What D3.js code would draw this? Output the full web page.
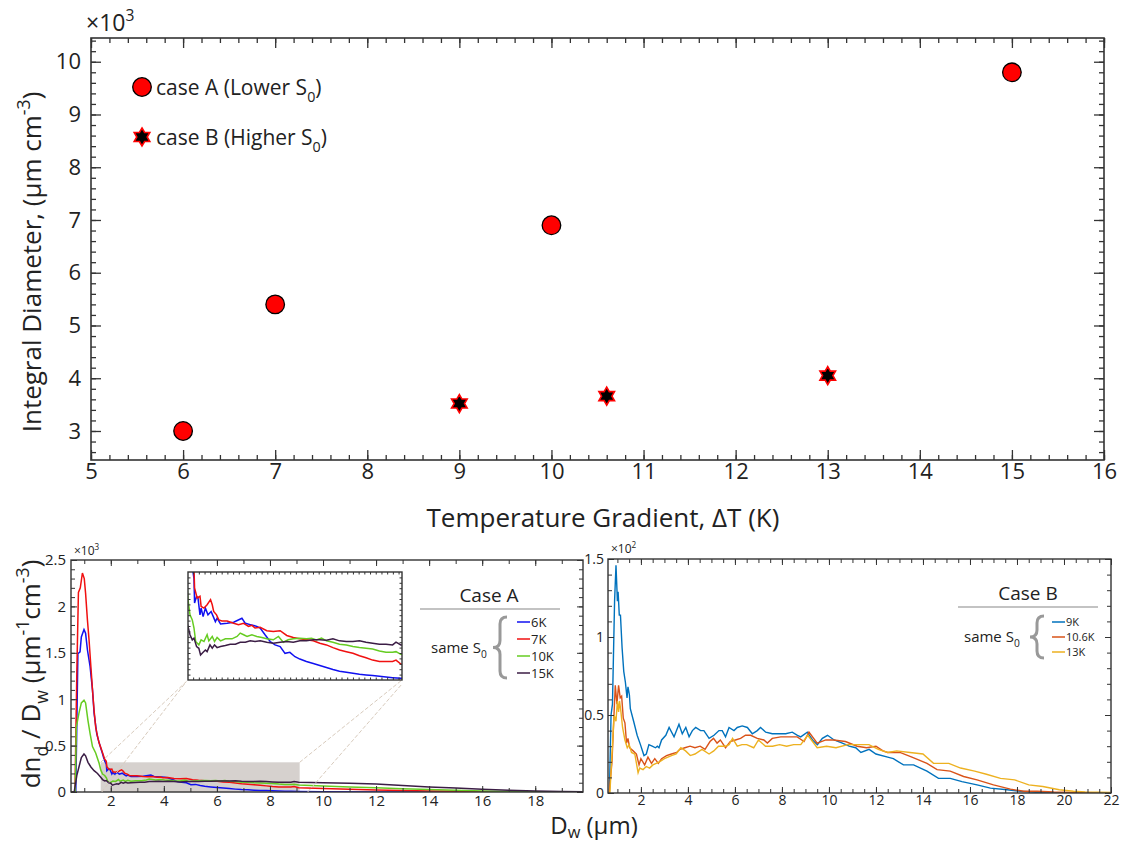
<!DOCTYPE html>
<html><head><meta charset="utf-8">
<script src="https://cdn.jsdelivr.net/npm/d3@7"></script>
<style>
body{margin:0;background:#fff}
svg{display:block}
text{font-family:"Open Sans","Noto Sans",sans-serif;fill:#222}
</style>
</head><body>
<svg id="chart" width="1125" height="842"></svg>
<script>
// ---------- Integral diameter vs temperature gradient ----------
const caseA_dT = [6, 7, 10, 15];
const caseA_ID = [3.0, 5.4, 6.9, 9.8];        // x10^3
const caseB_dT = [9, 10.6, 13];
const caseB_ID = [3.52, 3.66, 4.05];          // x10^3
const topXTicks = [5, 6, 7, 8, 9, 10, 11, 12, 13, 14, 15, 16];
const topYTicks = [3, 4, 5, 6, 7, 8, 9, 10];

// ---------- Size distributions, case A (x10^3) ----------
const caseALabels = ["6K", "7K", "10K", "15K"];
const caseAColors = ["#1010f0", "#f01010", "#66cc22", "#3b1d45"];
const dist6K = [[0.5,0],[0.68,0],[0.76,1.49],[0.84,1.51],[0.89,1.67],[0.99,1.75],[1.05,1.71],[1.12,1.53],[1.22,1.35],[1.31,1.10],[1.37,0.85],[1.47,0.63],[1.56,0.53],[1.68,0.42],[1.76,0.34],[1.83,0.30],
 [1.85,0.228],[1.92,0.248],[1.97,0.243],[2.04,0.193],[2.08,0.213],[2.15,0.188],[2.23,0.213],[2.32,0.193],[2.43,0.203],[2.48,0.193],[2.58,0.173],[2.64,0.183],[2.76,0.166],[2.99,0.168],[3.22,0.171],[3.51,0.183],[3.63,0.168],[3.80,0.164],[4.03,0.159],[4.15,0.154],[4.32,0.134],[4.50,0.114],[4.67,0.104],[4.85,0.099],[5.02,0.079],[5.19,0.082],[5.37,0.069],[5.54,0.062],[5.77,0.055],[6.01,0.049],[6.24,0.043],[6.47,0.037],[6.70,0.031],[6.93,0.026],[7.17,0.023],[7.40,0.020],[7.63,0.017],[7.86,0.015],[8.09,0.013],[8.33,0.011],[8.56,0.009],[8.79,0.007],[9.08,0.005],
 [10,0.004],[12,0.001],[14,0],[19.8,0]];
const dist7K = [[0.5,0],[0.65,0],[0.72,1.3],[0.78,2.15],[0.85,2.2],[0.93,2.36],[1.0,2.3],[1.05,2.14],[1.12,1.85],[1.18,1.64],[1.25,1.35],[1.31,1.1],[1.37,0.88],[1.43,0.70],[1.50,0.60],[1.56,0.53],[1.68,0.43],[1.76,0.36],[1.83,0.33],
 [1.85,0.273],[1.94,0.243],[2.04,0.248],[2.08,0.218],[2.18,0.213],[2.29,0.223],[2.41,0.238],[2.47,0.223],[2.52,0.203],[2.62,0.193],[2.70,0.178],[2.81,0.175],[2.99,0.175],[3.22,0.168],[3.39,0.164],[3.57,0.168],[3.74,0.159],[3.86,0.162],[3.97,0.154],[4.15,0.156],[4.38,0.146],[4.61,0.144],[4.85,0.146],[5.08,0.132],[5.31,0.126],[5.54,0.122],[5.77,0.119],[6.01,0.116],[6.24,0.109],[6.47,0.104],[6.70,0.096],[6.93,0.089],[7.17,0.084],[7.40,0.079],[7.63,0.072],[7.86,0.066],[8.09,0.059],[8.33,0.055],[8.56,0.055],[8.79,0.055],[8.91,0.059],[9.08,0.047],
 [10,0.038],[11,0.03],[12,0.022],[13,0.016],[14,0.011],[15,0.007],[16,0.004],[17,0.002],[18,0.001],[19.8,0]];
const dist10K = [[0.5,0],[0.66,0],[0.70,0.7],[0.80,0.85],[0.89,0.96],[0.99,0.99],[1.05,0.96],[1.14,0.77],[1.22,0.63],[1.31,0.49],[1.43,0.42],[1.56,0.31],[1.62,0.238],
 [1.69,0.193],[1.77,0.178],[1.83,0.154],[1.89,0.114],[2.00,0.104],[2.08,0.119],[2.18,0.114],[2.29,0.134],[2.35,0.116],[2.47,0.129],[2.55,0.114],[2.64,0.126],[2.76,0.116],[2.93,0.122],[3.16,0.122],[3.34,0.129],[3.45,0.139],[3.57,0.134],[3.69,0.129],[3.86,0.134],[4.03,0.129],[4.21,0.126],[4.38,0.122],[4.61,0.119],[4.79,0.129],[4.96,0.112],[5.13,0.119],[5.31,0.122],[5.54,0.124],[5.77,0.122],[5.95,0.124],[6.12,0.119],[6.30,0.124],[6.47,0.116],[6.70,0.112],[6.93,0.106],[7.17,0.104],[7.40,0.099],[7.63,0.096],[7.86,0.094],[8.09,0.092],[8.33,0.086],[8.56,0.082],[8.79,0.082],[8.91,0.084],[9.08,0.076],
 [10,0.065],[11,0.055],[12,0.045],[13,0.035],[14,0.026],[15,0.018],[16,0.011],[17,0.006],[18,0.003],[19.8,0.001]];
const dist15K = [[0.5,0],[0.62,0],[0.72,0.18],[0.80,0.27],[0.89,0.37],[0.99,0.41],[1.05,0.39],[1.14,0.32],[1.25,0.27],[1.37,0.23],[1.50,0.20],[1.62,0.159],
 [1.69,0.134],[1.77,0.119],[1.83,0.124],[1.92,0.099],[2.00,0.094],[2.06,0.074],[2.15,0.082],[2.23,0.089],[2.29,0.084],[2.39,0.104],[2.47,0.094],[2.55,0.104],[2.64,0.096],[2.76,0.099],[2.93,0.102],[3.10,0.106],[3.28,0.106],[3.45,0.112],[3.63,0.112],[3.80,0.116],[3.97,0.114],[4.15,0.116],[4.38,0.112],[4.61,0.109],[4.85,0.112],[5.08,0.114],[5.31,0.112],[5.54,0.116],[5.77,0.116],[6.01,0.119],[6.24,0.119],[6.47,0.118],[6.70,0.122],[6.93,0.116],[7.17,0.114],[7.40,0.114],[7.63,0.116],[7.86,0.112],[8.09,0.109],[8.33,0.106],[8.56,0.106],[8.79,0.104],[8.91,0.112],[9.08,0.104],
 [10,0.1],[11,0.095],[12,0.085],[13,0.07],[14,0.055],[15,0.042],[16,0.03],[17,0.018],[18,0.01],[19,0.005],[19.8,0.003]];
const caseASeries = [dist6K, dist7K, dist10K, dist15K];
const zoomBoxX = [1.62, 9.12];
const zoomBoxY = [0, 0.32];

// ---------- Size distributions, case B (x10^2) ----------
const caseBLabels = ["9K", "10.6K", "13K"];
const caseBColors = ["#0072bd", "#d95319", "#edb120"];
const dist9K = [[0.6,0],[0.66,0],[0.73,0.5],[0.79,0.57],[0.88,1.23],[0.94,1.46],[1.0,1.23],[1.03,1.29],[1.08,1.14],[1.13,1.14],[1.2,0.93],[1.27,0.78],[1.34,0.71],[1.41,0.61],[1.45,0.68],[1.51,0.63],[1.55,0.54],[1.69,0.46],[1.84,0.37],[1.98,0.31],[2.13,0.24],[2.23,0.25],[2.34,0.31],[2.48,0.30],[2.62,0.29],[2.70,0.30],[2.77,0.29],[2.88,0.34],[3.06,0.37],[3.20,0.42],[3.41,0.36],[3.62,0.44],[3.76,0.38],[3.91,0.42],[4.05,0.36],[4.19,0.40],[4.33,0.42],[4.54,0.40],[4.68,0.40],[4.90,0.35],[5.11,0.37],[5.32,0.40],[5.46,0.40],[5.60,0.36],[5.75,0.42],[5.96,0.40],[6.10,0.42],[6.31,0.43],[6.53,0.42],[6.74,0.38],[6.95,0.40],[7.09,0.42],[7.31,0.39],[7.59,0.38],[7.87,0.38],[8.16,0.38],[8.44,0.39],[8.66,0.37],[8.80,0.36],[9.08,0.39],[9.30,0.34],[9.51,0.31],[9.72,0.35],[9.94,0.37],[10.22,0.34],[10.57,0.32],[10.86,0.30],[11.14,0.29],[11.36,0.26],[11.71,0.28],[12.0,0.25],[12.5,0.23],[12.74,0.22],[13.17,0.18],[13.6,0.18],[14.17,0.14],[14.66,0.094],[15.16,0.094],[15.66,0.073],[16.3,0.052],[16.87,0.031],[17.58,0.021],[18.15,0.011],[18.86,0.004],[19.57,0.002],[20.7,0.002],[22,0]];
const dist10_6K = [[0.6,0],[0.65,0],[0.77,0.2],[0.84,0.45],[0.91,0.69],[0.98,0.57],[1.05,0.69],[1.12,0.61],[1.18,0.62],[1.25,0.48],[1.32,0.45],[1.39,0.32],[1.45,0.35],[1.52,0.29],[1.67,0.27],[1.81,0.25],[1.92,0.18],[2.0,0.22],[2.16,0.18],[2.3,0.23],[2.45,0.19],[2.59,0.22],[2.74,0.19],[2.88,0.22],[3.09,0.24],[3.3,0.25],[3.52,0.26],[3.66,0.28],[3.87,0.29],[4.09,0.30],[4.3,0.29],[4.52,0.30],[4.73,0.28],[4.94,0.33],[5.09,0.35],[5.24,0.32],[5.38,0.34],[5.6,0.29],[5.8,0.33],[6.02,0.34],[6.24,0.35],[6.45,0.37],[6.67,0.37],[6.95,0.35],[7.23,0.34],[7.38,0.32],[7.59,0.35],[7.95,0.36],[8.37,0.36],[8.65,0.36],[8.94,0.33],[9.15,0.39],[9.5,0.32],[9.87,0.34],[10.2,0.34],[10.7,0.33],[11.2,0.30],[11.6,0.29],[12.0,0.30],[12.3,0.27],[12.5,0.26],[13.02,0.26],[13.53,0.23],[14.17,0.19],[14.6,0.15],[15.16,0.14],[15.73,0.106],[16.3,0.084],[17.0,0.052],[17.72,0.025],[18.29,0.011],[18.86,0.011],[19.57,0.006],[20.3,0.004],[21.3,0.002],[22,0]];
const dist13K = [[0.6,0],[0.68,0],[0.8,0.33],[0.86,0.5],[0.94,0.46],[1.0,0.59],[1.05,0.52],[1.09,0.59],[1.15,0.52],[1.22,0.42],[1.32,0.34],[1.42,0.29],[1.5,0.31],[1.6,0.26],[1.74,0.25],[1.88,0.13],[1.95,0.16],[2.09,0.15],[2.23,0.17],[2.37,0.16],[2.51,0.18],[2.65,0.19],[2.79,0.20],[3.0,0.22],[3.3,0.24],[3.5,0.25],[3.7,0.29],[3.9,0.27],[4.1,0.24],[4.3,0.25],[4.6,0.28],[4.9,0.25],[5.1,0.27],[5.3,0.30],[5.6,0.30],[5.75,0.31],[5.9,0.35],[6.1,0.30],[6.3,0.31],[6.5,0.31],[6.8,0.29],[7.0,0.34],[7.3,0.30],[7.6,0.30],[7.9,0.31],[8.2,0.30],[8.5,0.31],[8.8,0.31],[9.1,0.37],[9.5,0.29],[9.9,0.30],[10.3,0.29],[10.8,0.31],[11.2,0.31],[11.7,0.31],[12.1,0.28],[12.5,0.26],[12.88,0.27],[13.45,0.26],[14.0,0.25],[14.45,0.19],[15.1,0.19],[15.6,0.16],[16.2,0.14],[16.7,0.12],[17.3,0.094],[17.9,0.084],[18.5,0.052],[19.1,0.042],[19.8,0.021],[20.4,0.011],[20.9,0.006],[22,0.004]];
const caseBSeries = [dist9K, dist10_6K, dist13K];

const botLeftXTicks = [2, 4, 6, 8, 10, 12, 14, 16, 18];
const botLeftYTicks = [0, 0.5, 1, 1.5, 2, 2.5];
const botRightXTicks = [2, 4, 6, 8, 10, 12, 14, 16, 18, 20, 22];
const botRightYTicks = [0, 0.5, 1, 1.5];

// ---------------------------------------------------------------
const svg = d3.select("#chart");
const FRAME = "#333";

// text with sub/superscripts built from tspans
function rich(sel, parts, size, subShift) {
  let shift = 0;
  parts.forEach(p => {
    const small = p.sub || p.sup;
    const target = p.sub ? size * (subShift || 0.32) : p.sup ? -size * 0.42 : 0;
    sel.append("tspan")
      .attr("dy", target - shift)
      .attr("font-size", small ? size * 0.68 : size)
      .text(p.t);
    shift = target;
  });
  return sel;
}

// framed axes with inward major/minor ticks on all four sides
function framedAxes(g, x, y, o) {
  const [x0, x1] = x.range(), [y0, y1] = y.range();
  const addAxis = (axisFn, scale, pos, vals, len, labels, fs, pad) => {
    const a = axisFn(scale).tickValues(vals).tickSizeInner(-len).tickSizeOuter(0).tickPadding(pad || 4);
    a.tickFormat(labels ? (d => String(d)) : "");
    const ag = g.append("g").attr("transform", pos).call(a);
    ag.select(".domain").remove();
    ag.selectAll("line").attr("stroke", FRAME).attr("stroke-width", o.tw || 1);
    ag.selectAll("text").attr("font-size", fs).attr("fill", "#222")
      .style("font-family", '"Open Sans","Noto Sans",sans-serif');
    return ag;
  };
  addAxis(d3.axisBottom, x, `translate(0,${y0})`, o.xMinor, o.minorLen, false);
  addAxis(d3.axisTop, x, `translate(0,${y1})`, o.xMinor, o.minorLen, false);
  addAxis(d3.axisLeft, y, `translate(${x0},0)`, o.yMinor, o.minorLen, false);
  addAxis(d3.axisRight, y, `translate(${x1},0)`, o.yMinor, o.minorLen, false);
  addAxis(d3.axisBottom, x, `translate(0,${y0})`, o.xTicks, o.majorLen, true, o.fs, o.xPad);
  addAxis(d3.axisTop, x, `translate(0,${y1})`, o.xTicks, o.majorLen, false);
  addAxis(d3.axisLeft, y, `translate(${x0},0)`, o.yTicks, o.majorLen, true, o.fs, o.yPad);
  addAxis(d3.axisRight, y, `translate(${x1},0)`, o.yTicks, o.majorLen, false);
  g.append("rect").attr("x", x0).attr("y", y1).attr("width", x1 - x0).attr("height", y0 - y1)
    .attr("fill", "none").attr("stroke", FRAME).attr("stroke-width", o.fw || 1.5);
}

function bracePath(x, y0, y1, w) {
  const ym = (y0 + y1) / 2, h = w / 2;
  return `M${x + w},${y0} Q${x + h},${y0} ${x + h},${y0 + h} L${x + h},${ym - h} Q${x + h},${ym} ${x},${ym}` +
         ` Q${x + h},${ym} ${x + h},${ym + h} L${x + h},${y1 - h} Q${x + h},${y1} ${x + w},${y1}`;
}

// ================= upper panel =================
const tx = d3.scaleLinear().domain([5, 16]).range([91, 1104]);
const ty = d3.scaleLinear().domain([2.45, 10.45]).range([460, 38]);
const upper = svg.append("g");
framedAxes(upper, tx, ty, {
  xTicks: topXTicks, yTicks: topYTicks,
  xMinor: d3.range(5, 16.001, 0.2).map(v => +v.toFixed(1)),
  yMinor: d3.range(2.6, 10.45, 0.2).map(v => +v.toFixed(1)),
  majorLen: 10, minorLen: 5, fs: 22, xPad: 3, yPad: 10, fw: 1.6, tw: 1.3
});
rich(upper.append("text").attr("x", 86).attr("y", 31), [{t: "×10"}, {t: "3", sup: true}], 23);

upper.append("text").attr("x", 603).attr("y", 527).attr("text-anchor", "middle")
  .attr("font-size", 26).text("Temperature Gradient, ΔT (K)");
rich(upper.append("text").attr("transform", "translate(41,262) rotate(-90)").attr("text-anchor", "middle"),
  [{t: "Integral Diameter, (μm cm"}, {t: "-3", sup: true}, {t: ")"}], 26);

const starPath = (r) => {
  const pts = [];
  for (let k = 0; k < 12; k++) {
    const a = -Math.PI / 2 + k * Math.PI / 6;
    const rr = k % 2 === 0 ? r : r / Math.sqrt(3);
    pts.push([rr * Math.cos(a), rr * Math.sin(a)]);
  }
  return "M" + pts.map(p => p.join(",")).join("L") + "Z";
};

upper.selectAll("circle.a").data(caseA_dT).enter().append("circle")
  .attr("cx", (d) => tx(d)).attr("cy", (d, i) => ty(caseA_ID[i])).attr("r", 9.3)
  .attr("fill", "#ff0000").attr("stroke", "#000").attr("stroke-width", 1.3);
upper.selectAll("path.b").data(caseB_dT).enter().append("path")
  .attr("d", starPath(9)).attr("transform", (d, i) => `translate(${tx(d)},${ty(caseB_ID[i])})`)
  .attr("fill", "#000").attr("stroke", "#ff0000").attr("stroke-width", 1.6).attr("stroke-linejoin", "miter");

// legend
upper.append("circle").attr("cx", 142).attr("cy", 87).attr("r", 9.3)
  .attr("fill", "#ff0000").attr("stroke", "#000").attr("stroke-width", 1.3);
rich(upper.append("text").attr("x", 156).attr("y", 95),
  [{t: "case A (Lower  S"}, {t: "0", sub: true}, {t: ")"}], 21);
upper.append("path").attr("d", starPath(9)).attr("transform", "translate(142,137)")
  .attr("fill", "#000").attr("stroke", "#ff0000").attr("stroke-width", 1.6);
rich(upper.append("text").attr("x", 156).attr("y", 145),
  [{t: "case B (Higher  S"}, {t: "0", sub: true}, {t: ")"}], 21);

// ================= lower-left panel (case A) =================
const ax = d3.scaleLinear().domain([0.5, 19.8]).range([71, 583]);
const ay = d3.scaleLinear().domain([0, 2.5]).range([792, 560]);
const bl = svg.append("g");
svg.append("clipPath").attr("id", "clipA").append("rect")
  .attr("x", 71).attr("y", 560).attr("width", 512).attr("height", 232);

// zoomed region marker
bl.append("rect").attr("x", ax(zoomBoxX[0])).attr("y", ay(zoomBoxY[1]))
  .attr("width", ax(zoomBoxX[1]) - ax(zoomBoxX[0])).attr("height", ay(zoomBoxY[0]) - ay(zoomBoxY[1]))
  .attr("fill", "#d6d1ce");

const lineA = d3.line().x(d => ax(d[0])).y(d => ay(d[1]));
bl.append("g").attr("clip-path", "url(#clipA)").selectAll("path").data(caseASeries).enter().append("path")
  .attr("d", lineA).attr("fill", "none").attr("stroke", (d, i) => caseAColors[i]).attr("stroke-width", 1.5);

framedAxes(bl, ax, ay, {
  xTicks: botLeftXTicks, yTicks: botLeftYTicks,
  xMinor: d3.range(1, 20, 1), yMinor: d3.range(0.1, 2.5, 0.1).map(v => +v.toFixed(1)),
  majorLen: 6, minorLen: 4, fs: 15, xPad: 3, yPad: 5, fw: 1.4, tw: 1
});
rich(bl.append("text").attr("x", 74).attr("y", 555), [{t: "×10"}, {t: "3", sup: true}], 12);

// inset showing the zoomed region
const ix = d3.scaleLinear().domain(zoomBoxX).range([188, 402]);
const iy = d3.scaleLinear().domain(zoomBoxY).range([680, 572]);
// connector lines from the marked region to the inset
const conn = [
  [ax(zoomBoxX[0]), ay(zoomBoxY[1]), ix.range()[0], iy.range()[0]],
  [ax(zoomBoxX[0]) + 1, ay(zoomBoxY[0]), ix.range()[0] - 2, iy.range()[0] + 2],
  [ax(zoomBoxX[1]), ay(zoomBoxY[1]), ix.range()[1], iy.range()[0]],
  [ax(zoomBoxX[1]) + 8, ay(zoomBoxY[0]), ix.range()[1], iy.range()[0] + 4]
];
bl.selectAll("line.conn").data(conn).enter().append("line")
  .attr("x1", d => d[0]).attr("y1", d => d[1]).attr("x2", d => d[2]).attr("y2", d => d[3])
  .attr("stroke", "#d8cbbd").attr("stroke-width", 1).attr("stroke-dasharray", "4,2");

const inset = svg.append("g");
inset.append("rect").attr("x", 188).attr("y", 572).attr("width", 214).attr("height", 108).attr("fill", "#fff");
svg.append("clipPath").attr("id", "clipI").append("rect")
  .attr("x", 188).attr("y", 572).attr("width", 214).attr("height", 108);
const lineI = d3.line().x(d => ix(d[0])).y(d => iy(d[1]));
inset.append("g").attr("clip-path", "url(#clipI)").selectAll("path").data(caseASeries).enter().append("path")
  .attr("d", lineI).attr("fill", "none").attr("stroke", (d, i) => caseAColors[i]).attr("stroke-width", 1.5);
framedAxes(inset, ix, iy, {
  xTicks: [], yTicks: [],
  xMinor: d3.range(1.8, 9.1, 0.2), yMinor: d3.range(0.016, 0.32, 0.016),
  majorLen: 3, minorLen: 2.5, fs: 10, fw: 1.4, tw: 1
});

// case A legend
const lgA = svg.append("g");
lgA.append("text").attr("x", 489).attr("y", 602).attr("text-anchor", "middle").attr("font-size", 19).text("Case A");
lgA.append("line").attr("x1", 420).attr("x2", 560).attr("y1", 609).attr("y2", 609).attr("stroke", "#888").attr("stroke-width", 1.2);
rich(lgA.append("text").attr("x", 431).attr("y", 653), [{t: "same S"}, {t: "0", sub: true}], 15);
lgA.append("path").attr("d", bracePath(493, 617, 678, 14)).attr("fill", "none").attr("stroke", "#999").attr("stroke-width", 3);
caseALabels.forEach((lab, i) => {
  const yy = 622 + i * 17;
  lgA.append("line").attr("x1", 517).attr("x2", 530).attr("y1", yy).attr("y2", yy).attr("stroke", caseAColors[i]).attr("stroke-width", 1.5);
  lgA.append("text").attr("x", 531).attr("y", yy + 5).attr("font-size", 13).text(lab);
});

// ================= lower-right panel (case B) =================
const bx = d3.scaleLinear().domain([0.6, 22]).range([608, 1111]);
const by = d3.scaleLinear().domain([0, 1.5]).range([793, 559]);
const br = svg.append("g");
svg.append("clipPath").attr("id", "clipB").append("rect")
  .attr("x", 608).attr("y", 559).attr("width", 503).attr("height", 234);
const lineB = d3.line().x(d => bx(d[0])).y(d => by(d[1]));
br.append("g").attr("clip-path", "url(#clipB)").selectAll("path").data(caseBSeries).enter().append("path")
  .attr("d", lineB).attr("fill", "none").attr("stroke", (d, i) => caseBColors[i]).attr("stroke-width", 1.4);
framedAxes(br, bx, by, {
  xTicks: botRightXTicks, yTicks: botRightYTicks,
  xMinor: d3.range(1, 22, 0.5), yMinor: d3.range(0.1, 1.5, 0.1).map(v => +v.toFixed(1)),
  majorLen: 6, minorLen: 4, fs: 14, xPad: 2, yPad: 4, fw: 1.4, tw: 1
});
rich(br.append("text").attr("x", 611).attr("y", 553), [{t: "×10"}, {t: "2", sup: true}], 12);

const lgB = svg.append("g");
lgB.append("text").attr("x", 1028).attr("y", 600).attr("text-anchor", "middle").attr("font-size", 19).text("Case B");
lgB.append("line").attr("x1", 958).attr("x2", 1098).attr("y1", 607).attr("y2", 607).attr("stroke", "#888").attr("stroke-width", 1.2);
rich(lgB.append("text").attr("x", 964).attr("y", 642), [{t: "same S"}, {t: "0", sub: true}], 15);
lgB.append("path").attr("d", bracePath(1030, 616, 658, 14)).attr("fill", "none").attr("stroke", "#999").attr("stroke-width", 3);
caseBLabels.forEach((lab, i) => {
  const yy = 622 + i * 15;
  lgB.append("line").attr("x1", 1052).attr("x2", 1065).attr("y1", yy).attr("y2", yy).attr("stroke", caseBColors[i]).attr("stroke-width", 1.5);
  lgB.append("text").attr("x", 1066).attr("y", yy + 4).attr("font-size", 11).text(lab);
});

// shared labels of the lower row
rich(svg.append("text").attr("x", 594).attr("y", 834).attr("text-anchor", "middle"),
  [{t: "D"}, {t: "w", sub: true}, {t: " (μm)"}], 24, 0.18);
rich(svg.append("text").attr("transform", "translate(40,674) rotate(-90)").attr("text-anchor", "middle"),
  [{t: "dn"}, {t: "d", sub: true}, {t: " / D"}, {t: "w", sub: true}, {t: " (μm"}, {t: "-1", sup: true}, {t: "cm"}, {t: "-3", sup: true}, {t: ")"}], 26);
</script>
</body></html>
